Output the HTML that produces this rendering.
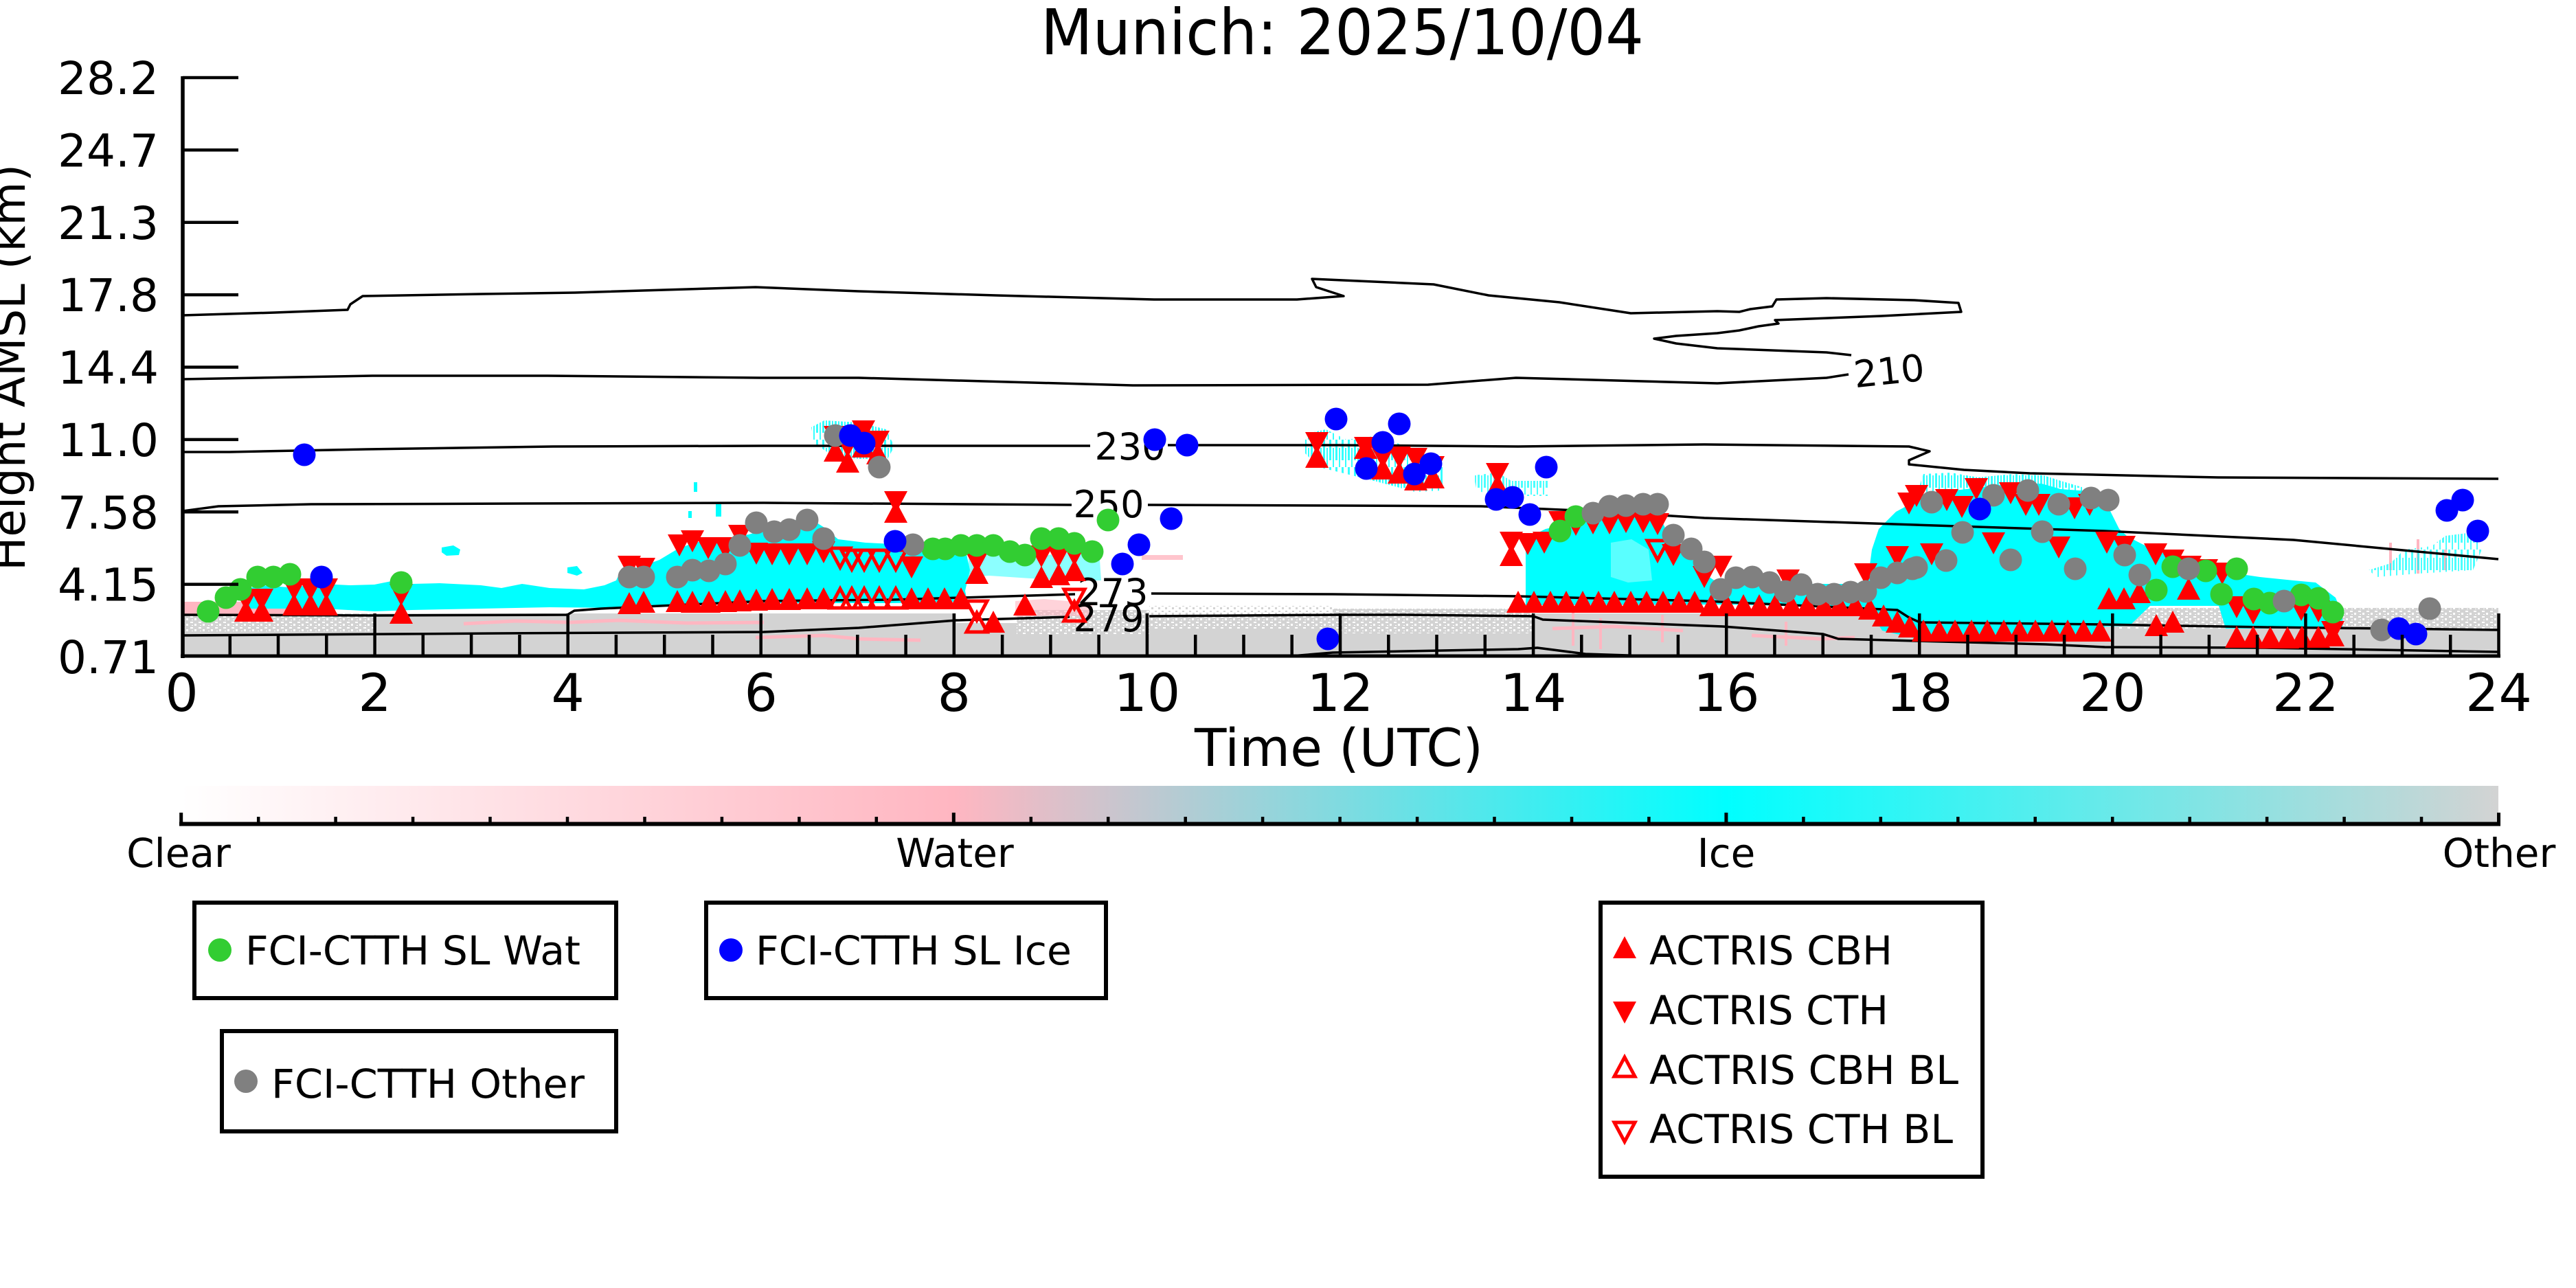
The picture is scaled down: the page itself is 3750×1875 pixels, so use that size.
<!DOCTYPE html>
<html><head><meta charset="utf-8"><style>html,body{margin:0;padding:0;background:#fff;width:3750px;height:1875px;overflow:hidden}</style></head>
<body>
<svg xmlns="http://www.w3.org/2000/svg" width="3750" height="1875" viewBox="0 0 3750 1875" font-family="'DejaVu Sans','Liberation Sans',sans-serif">
<defs>
<path id="tu" d="M0,-16 L-17,16 L17,16Z" fill="#ff0000"/>
<path id="td" d="M0,16 L-17,-16 L17,-16Z" fill="#ff0000"/>
<path id="hu" d="M0,-14 L-15,14 L15,14Z" fill="none" stroke="#ff0000" stroke-width="5"/>
<path id="hd" d="M0,14 L-15,-14 L15,-14Z" fill="none" stroke="#ff0000" stroke-width="5"/>
<linearGradient id="cb" x1="0" x2="1" y1="0" y2="0">
<stop offset="0" stop-color="#ffffff"/><stop offset="0.3333" stop-color="#ffb6c1"/><stop offset="0.6667" stop-color="#00ffff"/><stop offset="1" stop-color="#d3d3d3"/>
</linearGradient>
<pattern id="sp" width="12" height="8" patternUnits="userSpaceOnUse"><rect width="12" height="8" fill="#d3d3d3"/><rect x="1" y="1" width="4" height="2" fill="#fff"/><rect x="7" y="4" width="3" height="3" fill="#fff"/><rect x="3" y="6" width="2" height="1" fill="#fff"/></pattern>
<pattern id="sp2" width="10" height="8" patternUnits="userSpaceOnUse"><rect width="10" height="8" fill="#fff"/><rect x="1" y="1" width="3" height="2" fill="#d3d3d3"/><rect x="6" y="4" width="3" height="3" fill="#d3d3d3"/></pattern>
<pattern id="cs" width="9" height="40" patternUnits="userSpaceOnUse"><rect x="0" y="0" width="3" height="30" fill="#00ffff"/><rect x="5" y="12" width="2" height="28" fill="#00ffff"/></pattern>
</defs>

<!-- Title -->
<text x="1954" y="79" font-size="92" text-anchor="middle" textLength="878" lengthAdjust="spacingAndGlyphs">Munich: 2025/10/04</text>

<!-- Other (gray) band -->
<rect x="266" y="893" width="3371" height="62" fill="#d3d3d3"/>
<rect x="266" y="893" width="279" height="28" fill="url(#sp)"/>
<rect x="1392" y="880" width="88" height="27" fill="#fff"/>
<rect x="1480" y="888" width="193" height="36" fill="url(#sp)"/>
<rect x="1673" y="896" width="267" height="20" fill="url(#sp)"/>
<rect x="1673" y="882" width="267" height="14" fill="url(#sp2)"/>
<rect x="1940" y="886" width="292" height="36" fill="url(#sp)"/>
<rect x="3075" y="885" width="562" height="30" fill="url(#sp)"/>

<!-- Pink (water) -->
<g fill="#ffb6c1">
<rect x="266" y="876" width="150" height="18"/>
<rect x="470" y="876" width="65" height="6"/>
<polygon points="1478,875 1520,872 1590,878 1590,898 1530,896 1478,898" opacity="0.6"/>
<rect x="1662" y="808" width="60" height="7" opacity="0.8"/>
</g>
<g fill="none" stroke="#ffb6c1" stroke-width="5">
<polyline points="675,908 750,904 830,906 900,903 1000,907 1112,906"/>
<polyline points="1100,928 1200,925 1250,930 1340,932"/>
<polyline points="2260,915 2350,912 2450,918"/>
<polyline points="2550,925 2650,930 2700,928"/>
<path d="M2290,890V940M2330,900V945M2420,895V935M2600,905V940M3480,790V830M3520,785V835M3560,800V830" stroke-width="4"/>
</g>

<!-- Cyan (ice) -->
<g fill="#00ffff">
<polygon points="355,858 380,852 420,855 470,850 510,852 545,851 575,845 600,850 640,849 700,852 730,856 760,850 800,856 850,858 880,852 897,845 897,885 800,884 700,886 600,888 545,890 470,886 400,886 355,886"/>
<polygon points="897,845 905,828 930,826 960,815 985,800 1010,790 1040,785 1070,782 1090,778 1112,772 1130,765 1150,760 1175,752 1200,768 1220,785 1260,790 1300,792 1340,795 1380,795 1405,798 1412,830 1405,860 1408,876 1300,878 1112,878 1000,880 897,885"/>
<polygon points="2221,798 2230,780 2250,770 2264,767 2290,760 2319,754 2360,752 2416,751 2427,775 2440,790 2460,810 2481,835 2500,848 2600,850 2700,850 2719,845 2725,800 2735,770 2760,745 2773,738 2790,721 2820,716 2845,714 2880,710 2927,704 2972,704 3000,712 3054,716 3070,740 3085,770 3097,781 3130,798 3174,814 3229,831 3290,840 3339,845 3371,848 3400,870 3410,895 3410,915 3240,915 3230,882 3130,882 3100,911 3064,912 3060,928 2790,930 2740,918 2719,885 2513,880 2221,881"/>
<rect x="1010" y="702" width="5" height="14"/><rect x="1042" y="734" width="8" height="18"/><rect x="1002" y="744" width="5" height="10"/>
<polygon points="1410,800 1450,808 1500,812 1540,806 1600,800 1603,845 1560,845 1500,842 1440,838 1410,840" opacity="0.45"/>
<polygon points="643,797 660,794 670,800 668,808 650,809 643,804"/>
<polygon points="826,826 840,824 848,834 840,838 826,834"/>
</g>
<g fill="url(#cs)">
<polygon points="1181,622 1200,612 1250,615 1290,625 1302,650 1292,668 1250,668 1210,662 1185,645" opacity="0.8"/>
<polygon points="1900,632 1930,625 1960,640 2000,635 2050,650 2100,680 2102,714 2060,716 2000,700 1960,690 1920,680 1900,660" opacity="0.8"/>
<polygon points="2145,692 2180,688 2200,700 2254,700 2254,722 2190,722 2150,715" opacity="0.7"/>
<polygon points="3448,830 3480,820 3500,800 3540,795 3560,780 3600,775 3613,800 3600,830 3520,835 3460,840" opacity="0.7"/>
<polygon points="2790,721 2800,690 2840,688 2880,695 2930,690 2975,692 3000,700 3054,716 2790,721" opacity="0.8"/>
</g>
<polygon points="2345,790 2375,785 2400,800 2405,845 2370,848 2345,840" fill="#fff" opacity="0.35"/>

<!-- Contours -->
<g fill="none" stroke="#000" stroke-width="3.5" stroke-linejoin="round">
<polyline points="266,459 400,455 506,451 510,443 528,431 700,428 837,426 1100,418 1250,424 1450,430 1680,436 1888,436 1956,431 1916,418 1910,406 2087,414 2167,430 2270,440 2374,456 2500,453 2532,454 2548,450 2580,446 2586,436 2659,434 2787,437 2851,441 2855,454 2739,460 2584,466 2589,471 2560,475 2532,481 2500,485 2440,489 2408,493 2440,500 2500,507 2659,513 2695,517"/>
<polyline points="2691,545 2659,550 2500,558 2207,550 2079,560 1649,561 1250,550 1108,550 797,547 542,547 266,552"/>
<polyline points="266,658 334,658 534,654 805,650 1112,649 1587,649"/>
<polyline points="1700,648 1948,648 2210,650 2481,647 2779,650 2809,657 2779,670 2779,676 2859,684 2955,689 3229,695 3637,697"/>
<polyline points="266,744 318,737 453,734 1112,732 1560,735"/>
<polyline points="1671,735 1948,736 2156,737 2319,744 2481,754 2788,764 3064,773 3339,786 3637,814"/>
<polyline points="266,895 545,896 826,895 836,889 875,886 1112,875 1300,873 1565,865"/>
<polyline points="1676,864 1940,865 2210,868 2481,875 2762,888 2779,899 2795,906 3058,909 3297,913 3637,917"/>
<polyline points="266,925 723,922 1112,920 1250,914 1392,903 1557,898"/>
<polyline points="1673,897 1948,895 2047,895 2232,897 2246,902 2508,912 2654,923 2676,930 2788,933 2978,938 3064,942 3297,943 3637,949"/>
<polyline points="1880,955 1940,950 2210,945 2238,943 2308,952 2400,955"/>
</g>
<g font-size="54" text-anchor="middle" fill="#000">
<text x="1645" y="669">230</text>
<text x="1614" y="753">250</text>
<text x="1620" y="881">273</text>
<text x="1614" y="919">279</text>
<text x="2750" y="559" transform="rotate(-6 2750 540)">210</text>
</g>

<!-- ACTRIS markers -->
<g>
<use href="#tu" x="358" y="889"/><use href="#tu" x="381" y="889"/><use href="#tu" x="428" y="880"/><use href="#tu" x="452" y="880"/><use href="#tu" x="475" y="880"/><use href="#tu" x="584" y="892"/>
<use href="#tu" x="916" y="878"/><use href="#tu" x="937" y="876"/><use href="#tu" x="986" y="875"/><use href="#tu" x="1008" y="876"/><use href="#tu" x="1032" y="876"/><use href="#tu" x="1056" y="875"/><use href="#tu" x="1077" y="874"/><use href="#tu" x="1101" y="873"/><use href="#tu" x="1124" y="872"/><use href="#tu" x="1149" y="872"/><use href="#tu" x="1175" y="871"/><use href="#tu" x="1199" y="871"/><use href="#tu" x="1327" y="871"/><use href="#tu" x="1351" y="871"/><use href="#tu" x="1375" y="871"/><use href="#tu" x="1399" y="871"/>
<use href="#tu" x="1422" y="834"/><use href="#tu" x="1446" y="905"/><use href="#tu" x="1492" y="880"/><use href="#tu" x="1516" y="840"/><use href="#tu" x="1541" y="836"/><use href="#tu" x="1564" y="830"/>
<use href="#tu" x="1216" y="656"/><use href="#tu" x="1234" y="672"/><use href="#tu" x="1257" y="650"/><use href="#tu" x="1278" y="660"/><use href="#tu" x="1304" y="745"/>
<use href="#tu" x="1917" y="665"/><use href="#tu" x="1988" y="652"/><use href="#tu" x="2013" y="682"/><use href="#tu" x="2037" y="688"/><use href="#tu" x="2061" y="698"/><use href="#tu" x="2086" y="695"/><use href="#tu" x="2180" y="706"/>
<use href="#tu" x="2200" y="808"/>
<use href="#tu" x="2210" y="876"/><use href="#tu" x="2233" y="876"/><use href="#tu" x="2257" y="876"/><use href="#tu" x="2280" y="876"/><use href="#tu" x="2304" y="876"/><use href="#tu" x="2327" y="876"/><use href="#tu" x="2350" y="876"/><use href="#tu" x="2374" y="876"/><use href="#tu" x="2397" y="876"/><use href="#tu" x="2421" y="876"/><use href="#tu" x="2444" y="876"/><use href="#tu" x="2467" y="876"/>
<use href="#tu" x="2491" y="881"/><use href="#tu" x="2514" y="881"/><use href="#tu" x="2538" y="881"/><use href="#tu" x="2561" y="881"/><use href="#tu" x="2584" y="881"/><use href="#tu" x="2608" y="881"/><use href="#tu" x="2631" y="881"/><use href="#tu" x="2655" y="881"/><use href="#tu" x="2678" y="881"/><use href="#tu" x="2701" y="881"/><use href="#tu" x="2722" y="886"/><use href="#tu" x="2742" y="896"/><use href="#tu" x="2762" y="905"/><use href="#tu" x="2780" y="912"/>
<use href="#tu" x="2800" y="918"/><use href="#tu" x="2823" y="918"/><use href="#tu" x="2846" y="918"/><use href="#tu" x="2870" y="918"/><use href="#tu" x="2893" y="918"/><use href="#tu" x="2917" y="918"/><use href="#tu" x="2940" y="918"/><use href="#tu" x="2963" y="918"/><use href="#tu" x="2987" y="918"/><use href="#tu" x="3010" y="918"/><use href="#tu" x="3033" y="918"/><use href="#tu" x="3057" y="918"/>
<use href="#tu" x="3070" y="871"/><use href="#tu" x="3092" y="871"/><use href="#tu" x="3114" y="862"/><use href="#tu" x="3139" y="910"/><use href="#tu" x="3163" y="905"/><use href="#tu" x="3186" y="857"/>
<use href="#tu" x="3256" y="927"/><use href="#tu" x="3280" y="927"/><use href="#tu" x="3305" y="928"/><use href="#tu" x="3330" y="928"/><use href="#tu" x="3351" y="927"/><use href="#tu" x="3375" y="927"/><use href="#tu" x="3396" y="925"/>

<use href="#td" x="358" y="873"/><use href="#td" x="381" y="873"/><use href="#td" x="428" y="858"/><use href="#td" x="452" y="858"/><use href="#td" x="475" y="858"/><use href="#td" x="584" y="866"/>
<use href="#td" x="916" y="825"/><use href="#td" x="937" y="828"/>
<use href="#td" x="989" y="794"/><use href="#td" x="1008" y="788"/><use href="#td" x="1031" y="798"/><use href="#td" x="1056" y="798"/><use href="#td" x="1077" y="780"/><use href="#td" x="1101" y="806"/>
<use href="#td" x="1124" y="807"/><use href="#td" x="1149" y="807"/><use href="#td" x="1175" y="807"/><use href="#td" x="1199" y="804"/><use href="#td" x="1327" y="826"/>
<use href="#td" x="1216" y="636"/><use href="#td" x="1234" y="650"/><use href="#td" x="1257" y="628"/><use href="#td" x="1278" y="643"/><use href="#td" x="1304" y="731"/>
<use href="#td" x="1422" y="818"/><use href="#td" x="1516" y="810"/><use href="#td" x="1541" y="810"/><use href="#td" x="1564" y="808"/>
<use href="#td" x="1917" y="645"/><use href="#td" x="1988" y="652"/><use href="#td" x="2013" y="666"/><use href="#td" x="2037" y="666"/><use href="#td" x="2061" y="668"/><use href="#td" x="2086" y="680"/><use href="#td" x="2180" y="690"/>
<use href="#td" x="2200" y="790"/><use href="#td" x="2224" y="792"/><use href="#td" x="2248" y="790"/><use href="#td" x="2271" y="760"/><use href="#td" x="2294" y="764"/><use href="#td" x="2319" y="762"/><use href="#td" x="2343" y="762"/><use href="#td" x="2367" y="760"/><use href="#td" x="2392" y="760"/><use href="#td" x="2413" y="763"/><use href="#td" x="2436" y="808"/><use href="#td" x="2481" y="840"/><use href="#td" x="2505" y="825"/><use href="#td" x="2603" y="845"/><use href="#td" x="2716" y="836"/><use href="#td" x="2762" y="811"/><use href="#td" x="2779" y="733"/>
<use href="#td" x="2790" y="722"/><use href="#td" x="2834" y="728"/><use href="#td" x="2856" y="738"/><use href="#td" x="2877" y="712"/><use href="#td" x="2927" y="718"/><use href="#td" x="2949" y="735"/><use href="#td" x="2968" y="735"/><use href="#td" x="3020" y="740"/><use href="#td" x="3042" y="735"/>
<use href="#td" x="2812" y="807"/><use href="#td" x="2902" y="791"/><use href="#td" x="2997" y="797"/><use href="#td" x="3067" y="790"/><use href="#td" x="3092" y="796"/><use href="#td" x="3138" y="807"/><use href="#td" x="3163" y="816"/><use href="#td" x="3188" y="825"/><use href="#td" x="3212" y="830"/><use href="#td" x="3235" y="835"/><use href="#td" x="3256" y="884"/><use href="#td" x="3280" y="893"/><use href="#td" x="3350" y="888"/><use href="#td" x="3375" y="890"/><use href="#td" x="3396" y="920"/>

<use href="#hd" x="1223" y="812"/><use href="#hd" x="1240" y="815"/><use href="#hd" x="1258" y="815"/><use href="#hd" x="1280" y="815"/><use href="#hd" x="1304" y="815"/><use href="#hd" x="1422" y="889"/><use href="#hd" x="1564" y="872"/><use href="#hd" x="2413" y="801"/>
<use href="#hu" x="1223" y="871"/><use href="#hu" x="1240" y="871"/><use href="#hu" x="1258" y="871"/><use href="#hu" x="1280" y="871"/><use href="#hu" x="1304" y="871"/><use href="#hu" x="1422" y="906"/><use href="#hu" x="1564" y="890"/>
</g>

<!-- FCI-CTTH markers -->
<g fill="#32cd32">
<circle cx="303" cy="890" r="16.5"/><circle cx="329" cy="870" r="16.5"/><circle cx="350" cy="858" r="16.5"/><circle cx="375" cy="840" r="16.5"/><circle cx="398" cy="840" r="16.5"/><circle cx="422" cy="836" r="16.5"/><circle cx="584" cy="848" r="16.5"/>
<circle cx="1358" cy="799" r="16.5"/><circle cx="1376" cy="799" r="16.5"/><circle cx="1399" cy="794" r="16.5"/><circle cx="1422" cy="794" r="16.5"/><circle cx="1446" cy="794" r="16.5"/><circle cx="1470" cy="803" r="16.5"/><circle cx="1492" cy="808" r="16.5"/><circle cx="1516" cy="784" r="16.5"/><circle cx="1541" cy="784" r="16.5"/><circle cx="1564" cy="791" r="16.5"/><circle cx="1590" cy="803" r="16.5"/><circle cx="1613" cy="757" r="16.5"/>
<circle cx="2271" cy="773" r="16.5"/><circle cx="2294" cy="752" r="16.5"/>
<circle cx="3163" cy="825" r="16.5"/><circle cx="3139" cy="859" r="16.5"/><circle cx="3211" cy="831" r="16.5"/><circle cx="3234" cy="865" r="16.5"/><circle cx="3256" cy="828" r="16.5"/><circle cx="3281" cy="872" r="16.5"/><circle cx="3304" cy="878" r="16.5"/><circle cx="3350" cy="866" r="16.5"/><circle cx="3375" cy="871" r="16.5"/><circle cx="3396" cy="891" r="16.5"/>
</g>
<g fill="#808080">
<circle cx="916" cy="840" r="16.5"/><circle cx="937" cy="840" r="16.5"/><circle cx="986" cy="840" r="16.5"/><circle cx="1008" cy="830" r="16.5"/><circle cx="1032" cy="831" r="16.5"/><circle cx="1056" cy="821" r="16.5"/><circle cx="1077" cy="794" r="16.5"/><circle cx="1101" cy="761" r="16.5"/>
<circle cx="1127" cy="774" r="16.5"/><circle cx="1149" cy="771" r="16.5"/><circle cx="1175" cy="757" r="16.5"/><circle cx="1199" cy="784" r="16.5"/><circle cx="1216" cy="634" r="16.5"/><circle cx="1280" cy="680" r="16.5"/><circle cx="1329" cy="793" r="16.5"/>
<circle cx="2319" cy="747" r="16.5"/><circle cx="2343" cy="737" r="16.5"/><circle cx="2367" cy="736" r="16.5"/><circle cx="2392" cy="734" r="16.5"/><circle cx="2413" cy="734" r="16.5"/><circle cx="2436" cy="779" r="16.5"/><circle cx="2462" cy="799" r="16.5"/><circle cx="2481" cy="818" r="16.5"/><circle cx="2505" cy="858" r="16.5"/><circle cx="2527" cy="841" r="16.5"/><circle cx="2551" cy="840" r="16.5"/><circle cx="2576" cy="848" r="16.5"/><circle cx="2599" cy="861" r="16.5"/><circle cx="2622" cy="851" r="16.5"/><circle cx="2646" cy="865" r="16.5"/><circle cx="2670" cy="865" r="16.5"/><circle cx="2694" cy="862" r="16.5"/><circle cx="2716" cy="861" r="16.5"/><circle cx="2738" cy="841" r="16.5"/><circle cx="2762" cy="834" r="16.5"/><circle cx="2784" cy="828" r="16.5"/>
<circle cx="2812" cy="731" r="16.5"/><circle cx="2902" cy="721" r="16.5"/><circle cx="2952" cy="714" r="16.5"/><circle cx="2997" cy="734" r="16.5"/><circle cx="3044" cy="725" r="16.5"/><circle cx="3069" cy="728" r="16.5"/><circle cx="2857" cy="775" r="16.5"/><circle cx="2973" cy="774" r="16.5"/><circle cx="2833" cy="816" r="16.5"/><circle cx="2927" cy="815" r="16.5"/><circle cx="3021" cy="828" r="16.5"/><circle cx="2790" cy="826" r="16.5"/><circle cx="3093" cy="808" r="16.5"/><circle cx="3115" cy="837" r="16.5"/><circle cx="3186" cy="828" r="16.5"/><circle cx="3325" cy="875" r="16.5"/><circle cx="3467" cy="917" r="16.5"/><circle cx="3537" cy="886" r="16.5"/>
</g>
<g fill="#0000ff">
<circle cx="443" cy="662" r="16.5"/><circle cx="468" cy="840" r="16.5"/>
<circle cx="1238" cy="634" r="16.5"/><circle cx="1258" cy="645" r="16.5"/><circle cx="1303" cy="788" r="16.5"/><circle cx="1634" cy="821" r="16.5"/><circle cx="1658" cy="793" r="16.5"/><circle cx="1705" cy="755" r="16.5"/><circle cx="1681" cy="640" r="16.5"/><circle cx="1728" cy="648" r="16.5"/><circle cx="1933" cy="930" r="16.5"/><circle cx="1945" cy="610" r="16.5"/>
<circle cx="2037" cy="617" r="16.5"/><circle cx="2013" cy="644" r="16.5"/><circle cx="1989" cy="682" r="16.5"/><circle cx="2059" cy="690" r="16.5"/><circle cx="2083" cy="675" r="16.5"/><circle cx="2251" cy="680" r="16.5"/><circle cx="2178" cy="727" r="16.5"/><circle cx="2202" cy="724" r="16.5"/><circle cx="2227" cy="749" r="16.5"/>
<circle cx="2882" cy="741" r="16.5"/><circle cx="3562" cy="743" r="16.5"/><circle cx="3585" cy="728" r="16.5"/><circle cx="3607" cy="773" r="16.5"/><circle cx="3492" cy="915" r="16.5"/><circle cx="3517" cy="923" r="16.5"/>
</g>

<!-- Axes -->
<g stroke="#000" fill="none">
<line x1="266" y1="111" x2="266" y2="958" stroke-width="5.5"/>
<line x1="263" y1="955" x2="3640" y2="955" stroke-width="5"/>
<path stroke-width="4.5" d="M266,113H347M266,218.4H347M266,323.8H347M266,429.1H347M266,534.5H347M266,639.9H347M266,745.3H347M266,850.6H347"/>
<path stroke-width="4.5" d="M545.6,955V893M826.7,955V893M1107.7,955V893M1388.8,955V893M1669.9,955V893M1951,955V893M2232.1,955V893M2513.2,955V893M2794.2,955V893M3075.3,955V893M3356.4,955V893M3637.5,955V893"/>
<path stroke-width="4.5" d="M334.8,955V924M405,955V924M475.3,955V924M615.8,955V924M686.1,955V924M756.4,955V924M896.9,955V924M967.2,955V924M1037.5,955V924M1178,955V924M1248.3,955V924M1318.6,955V924M1459.1,955V924M1529.4,955V924M1599.6,955V924M1740.2,955V924M1810.5,955V924M1880.7,955V924M2021.3,955V924M2091.5,955V924M2161.8,955V924M2302.3,955V924M2372.6,955V924M2442.9,955V924M2583.4,955V924M2653.7,955V924M2724,955V924M2864.5,955V924M2934.8,955V924M3005.1,955V924M3145.6,955V924M3215.9,955V924M3286.1,955V924M3426.7,955V924M3497,955V924M3567.2,955V924"/>
</g>
<g font-size="66" text-anchor="end" fill="#000">
<text x="231" y="137">28.2</text><text x="231" y="242.4">24.7</text><text x="231" y="347.8">21.3</text><text x="231" y="453.1">17.8</text><text x="231" y="558.5">14.4</text><text x="231" y="663.9">11.0</text><text x="231" y="769.3">7.58</text><text x="231" y="874.6">4.15</text><text x="231" y="980">0.71</text>
</g>
<text x="36" y="535" font-size="66" text-anchor="middle" transform="rotate(-90 36 535)" textLength="592" lengthAdjust="spacingAndGlyphs">Height AMSL (km)</text>
<g font-size="76" text-anchor="middle" fill="#000">
<text x="264.5" y="1035">0</text><text x="545.6" y="1035">2</text><text x="826.7" y="1035">4</text><text x="1107.7" y="1035">6</text><text x="1388.8" y="1035">8</text><text x="1669.9" y="1035">10</text><text x="1951" y="1035">12</text><text x="2232.1" y="1035">14</text><text x="2513.2" y="1035">16</text><text x="2794.2" y="1035">18</text><text x="3075.3" y="1035">20</text><text x="3356.4" y="1035">22</text><text x="3637.5" y="1035">24</text>
<text x="1949" y="1115" textLength="420" lengthAdjust="spacingAndGlyphs">Time (UTC)</text>
</g>

<!-- Colorbar -->
<rect x="264" y="1144" width="3373" height="55" fill="url(#cb)"/>
<g stroke="#000" fill="none">
<line x1="261" y1="1199.5" x2="3640" y2="1199.5" stroke-width="6"/>
<path stroke-width="5" d="M263.7,1199V1183M1388.3,1199V1183M2512.9,1199V1183M3637.5,1199V1183"/>
<path stroke-width="4.5" d="M376.2,1199V1189M488.6,1199V1189M601.1,1199V1189M713.5,1199V1189M826,1199V1189M938.5,1199V1189M1050.9,1199V1189M1163.4,1199V1189M1275.8,1199V1189M1500.8,1199V1189M1613.2,1199V1189M1725.7,1199V1189M1838.1,1199V1189M1950.6,1199V1189M2063.1,1199V1189M2175.5,1199V1189M2288,1199V1189M2400.4,1199V1189M2625.4,1199V1189M2737.8,1199V1189M2850.3,1199V1189M2962.7,1199V1189M3075.2,1199V1189M3187.7,1199V1189M3300.1,1199V1189M3412.6,1199V1189M3525,1199V1189"/>
</g>
<g font-size="58" text-anchor="middle" fill="#000">
<text x="260" y="1262">Clear</text><text x="1390" y="1262">Water</text><text x="2513" y="1262">Ice</text><text x="3638" y="1262">Other</text>
</g>

<!-- Legends -->
<g fill="#fff" stroke="#000" stroke-width="6">
<rect x="283" y="1314" width="614" height="139"/>
<rect x="1028" y="1314" width="582" height="139"/>
<rect x="323" y="1501" width="574" height="146"/>
<rect x="2330" y="1314" width="556" height="399"/>
</g>
<circle cx="320" cy="1383" r="17" fill="#32cd32"/>
<circle cx="1064" cy="1383" r="17" fill="#0000ff"/>
<circle cx="358" cy="1574" r="17" fill="#808080"/>
<use href="#tu" x="2365" y="1379"/>
<use href="#td" x="2365" y="1474"/>
<use href="#hu" x="2365" y="1553"/>
<use href="#hd" x="2365" y="1648"/>
<g font-size="57.5" fill="#000">
<text x="357" y="1404" textLength="488" lengthAdjust="spacingAndGlyphs">FCI-CTTH SL Wat</text>
<text x="1100" y="1404" textLength="460" lengthAdjust="spacingAndGlyphs">FCI-CTTH SL Ice</text>
<text x="395" y="1598" textLength="456" lengthAdjust="spacingAndGlyphs">FCI-CTTH Other</text>
<text x="2401" y="1404" textLength="354" lengthAdjust="spacingAndGlyphs">ACTRIS CBH</text>
<text x="2401" y="1491" textLength="348" lengthAdjust="spacingAndGlyphs">ACTRIS CTH</text>
<text x="2401" y="1578" textLength="450" lengthAdjust="spacingAndGlyphs">ACTRIS CBH BL</text>
<text x="2401" y="1664" textLength="442" lengthAdjust="spacingAndGlyphs">ACTRIS CTH BL</text>
</g>
</svg>
</body></html>
